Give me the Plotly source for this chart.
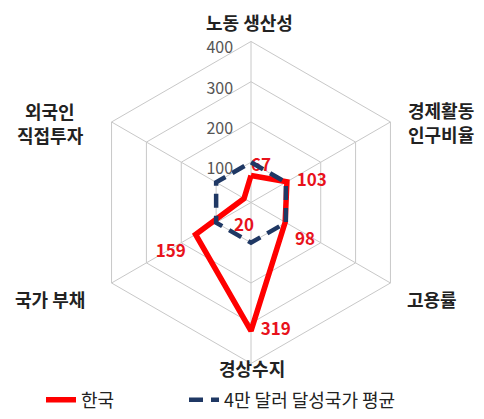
import plotly.graph_objects as go

# Indicators around the radar, clockwise from the top
categories = ["노동 생산성", "경제활동 인구비율", "고용률", "경상수지", "국가 부채", "외국인 직접투자"]
korea = [67, 103, 98, 319, 159, 20]
peer_avg = [100, 100, 100, 100, 100, 100]
radial_ticks = [0, 100, 200, 300, 400]

# Axis titles shown outside the hexagon (one entry per line: text, x, y in pixels from top-left)
axis_titles = [
    ("노동 생산성", 250, 23),
    ("경제활동", 441, 114),
    ("인구비율", 441, 139),
    ("고용률", 432, 310),
    ("경상수지", 252, 382),
    ("국가 부채", 50, 310),
    ("외국인", 50, 115),
    ("직접투자", 50, 140),
]

W, H = 484, 419
FONT = "Noto Sans CJK KR"
NBSP = "\u00a0"

theta = categories + categories[:1]

fig = go.Figure()
fig.add_trace(go.Scatterpolar(
    r=korea + korea[:1], theta=theta, mode="lines+markers+text", name="한국",
    line=dict(color="#ff0000", width=5.5),
    # invisible markers keep each value label clear of the line
    marker=dict(size=[0, 14, 14, 14, 14, 30, 0], color="rgba(0,0,0,0)",
                opacity=0, line=dict(width=0)),
    text=[f"<b>{v}</b>" for v in korea] + [""],
    textposition=["top right", "middle right", "bottom right", "middle right", "bottom left", "bottom center", "top center"],
    textfont=dict(color="#e8121b", size=17, family=FONT),
    legend="legend",
))
fig.add_trace(go.Scatterpolar(
    r=peer_avg + peer_avg[:1], theta=theta, mode="lines", name="4만 달러 달성국가 평균",
    line=dict(color="#1f3864", width=4.5, dash="14px,8px"),
    legend="legend2",
))
# Radial scale labels, set just left of the vertical spoke
fig.add_trace(go.Scatterpolar(
    r=radial_ticks, theta=[categories[0]] * len(radial_ticks), mode="text",
    text=[f"{v}{NBSP * 5}" for v in radial_ticks], textposition="bottom left",
    textfont=dict(size=16, color="#555555", family=FONT),
    showlegend=False, hoverinfo="skip",
))

cx, cy, rad = 251, 210, 167
legend_style = dict(
    orientation="h", y=(H - 415) / H, xanchor="left", yanchor="middle",
    font=dict(size=18, color="#222222", family=FONT),
    bgcolor="rgba(0,0,0,0)",
)
fig.update_layout(
    width=W, height=H,
    margin=dict(l=0, r=0, t=0, b=0),
    paper_bgcolor="white",
    font=dict(family=FONT, color="#222222"),
    polar=dict(
        domain=dict(x=[(cx - rad) / W, (cx + rad) / W], y=[(H - cy - rad) / H, (H - cy + rad) / H]),
        gridshape="linear",
        bgcolor="white",
        angularaxis=dict(
            rotation=90, direction="clockwise", showticklabels=False, ticks="",
            linecolor="#c8c8c8", linewidth=1, gridcolor="#c8c8c8", gridwidth=1,
        ),
        radialaxis=dict(
            range=[0, 400], tickvals=radial_ticks, angle=90, showticklabels=False,
            showline=False, ticks="", gridcolor="#c8c8c8", gridwidth=1,
        ),
    ),
    legend=dict(x=41 / W, **legend_style),
    legend2=dict(x=184 / W, **legend_style),
)

for txt, x, y in axis_titles:
    fig.add_annotation(
        text=f"<b>{txt}</b>", x=x / W, y=(H - y) / H, xref="paper", yref="paper",
        showarrow=False, xanchor="center", yanchor="middle",
        font=dict(size=18, color="#222222", family=FONT),
    )

fig.write_html("out.html")
